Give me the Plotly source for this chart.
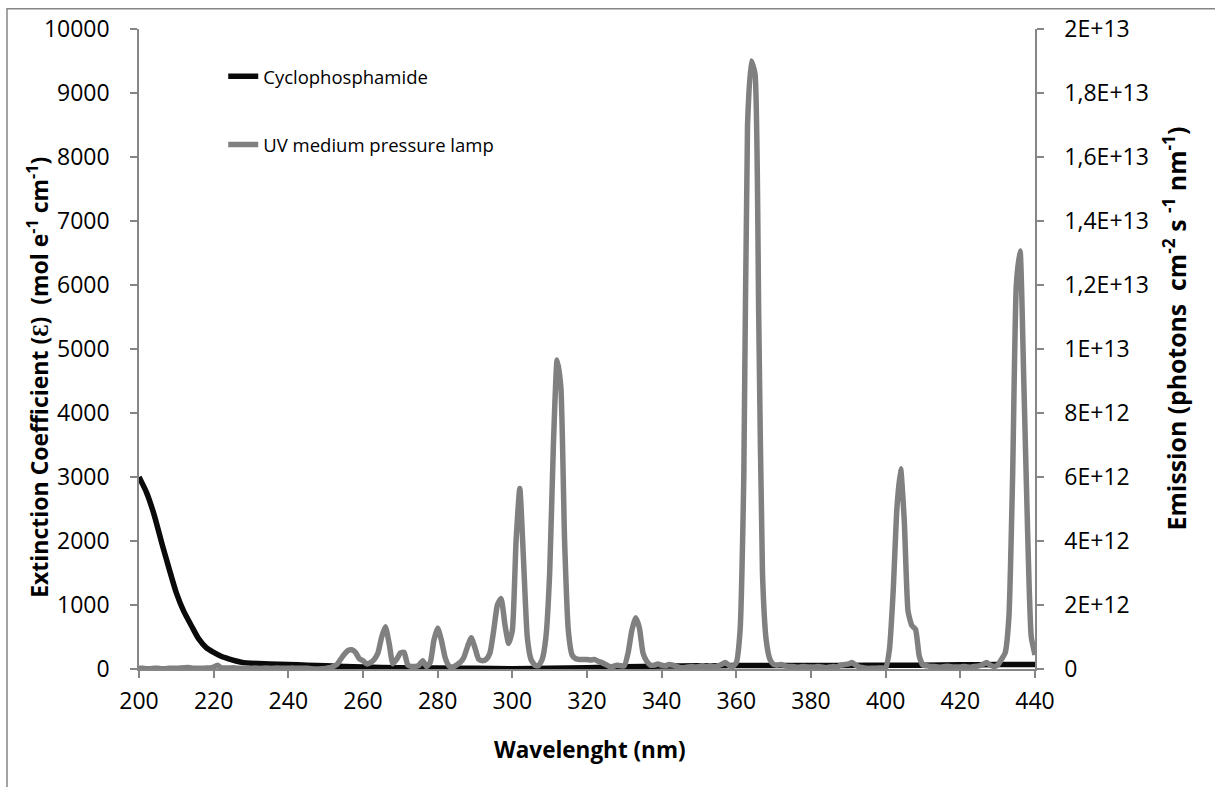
import numpy as np
import plotly.graph_objects as go

# ---------------- data ----------------
# Cyclophosphamide extinction coefficient (mol e-1 cm-1)
cp_wavelength = [200, 202, 204, 206, 208, 210, 212, 214, 216, 218, 220, 222, 224, 226, 228, 230,
                 235, 240, 245, 250, 260, 270, 280, 290, 300, 310, 320, 330, 340, 350, 360,
                 370, 380, 390, 400, 410, 420, 430, 440]
cp_extinction = [3000, 2760, 2420, 1990, 1580, 1190, 900, 680, 470, 335, 260, 200, 160, 125, 100, 90,
                 80, 70, 60, 50, 30, 20, 15, 10, 5, 10, 20, 35, 45, 50, 55,
                 55, 55, 55, 60, 60, 65, 70, 70]

# UV medium pressure lamp emission, in units of 1E+12 photons cm-2 s-1 nm-1, 200..440 nm step 1
lamp_wavelength = list(range(200, 441))
lamp_emission_e12 = [
    0.02, 0.02, 0.01, 0.01, 0.02, 0.02, 0.01, 0.01, 0.02, 0.02,   # 200-209
    0.02, 0.03, 0.04, 0.05, 0.03, 0.02, 0.02, 0.02, 0.03, 0.03,   # 210-219
    0.06, 0.12, 0.04, 0.03, 0.03, 0.04, 0.03, 0.02, 0.02, 0.02,   # 220-229
    0.02, 0.03, 0.02, 0.02, 0.03, 0.02, 0.02, 0.03, 0.02, 0.02,   # 230-239
    0.02, 0.03, 0.02, 0.02, 0.02, 0.02, 0.01, 0.0, 0.0, 0.01,     # 240-249
    0.02, 0.04, 0.08, 0.14, 0.3, 0.46, 0.58, 0.6, 0.52, 0.32,     # 250-259
    0.26, 0.16, 0.2, 0.3, 0.5, 1.0, 1.32, 0.8, 0.16, 0.3,         # 260-269
    0.5, 0.52, 0.12, 0.08, 0.08, 0.12, 0.26, 0.08, 0.2, 0.9,      # 270-279
    1.28, 0.9, 0.36, 0.1, 0.06, 0.12, 0.2, 0.36, 0.7, 0.98,       # 280-289
    0.66, 0.3, 0.26, 0.3, 0.5, 1.2, 2.0, 2.2, 1.4, 0.8,           # 290-299
    1.2, 4.0, 5.64, 3.4, 1.0, 0.3, 0.12, 0.1, 0.3, 1.0,           # 300-309
    3.0, 7.0, 9.66, 8.8, 4.0, 1.2, 0.44, 0.32, 0.3, 0.3,          # 310-319
    0.3, 0.28, 0.3, 0.24, 0.2, 0.14, 0.08, 0.08, 0.12, 0.1,       # 320-329
    0.1, 0.5, 1.2, 1.6, 1.3, 0.5, 0.24, 0.12, 0.12, 0.16,         # 330-339
    0.12, 0.1, 0.14, 0.12, 0.08, 0.04, 0.04, 0.06, 0.08, 0.06,    # 340-349
    0.08, 0.1, 0.08, 0.1, 0.08, 0.1, 0.14, 0.2, 0.12, 0.08,       # 350-359
    0.2, 1.2, 6.0, 17.0, 19.0, 18.6, 11.0, 3.0, 0.9, 0.3,         # 360-369
    0.14, 0.12, 0.14, 0.1, 0.08, 0.08, 0.06, 0.06, 0.08, 0.06,    # 370-379
    0.06, 0.06, 0.08, 0.06, 0.04, 0.06, 0.08, 0.06, 0.12, 0.14,   # 380-389
    0.16, 0.2, 0.12, 0.06, 0.04, 0.02, 0.02, 0.02, 0.03, 0.03,    # 390-399
    0.04, 0.6, 2.4, 5.0, 6.26, 4.6, 1.8, 1.36, 1.24, 0.4,         # 400-409
    0.12, 0.1, 0.08, 0.08, 0.06, 0.06, 0.08, 0.08, 0.06, 0.06,    # 410-419
    0.06, 0.08, 0.06, 0.06, 0.08, 0.1, 0.14, 0.2, 0.12, 0.08,     # 420-429
    0.12, 0.3, 0.5, 1.6, 6.0, 12.0, 13.06, 9.0, 4.4, 1.0, 0.44,   # 430-440
]

x_ticks = [200, 220, 240, 260, 280, 300, 320, 340, 360, 380, 400, 420, 440]
y2_tick_vals = [0, 2e12, 4e12, 6e12, 8e12, 1e13, 1.2e13, 1.4e13, 1.6e13, 1.8e13, 2e13]
y2_tick_text = ["0", "2E+12", "4E+12", "6E+12", "8E+12", "1E+13",
                "1,2E+13", "1,4E+13", "1,6E+13", "1,8E+13", "2E+13"]

lamp_emission = np.array(lamp_emission_e12) * 1e12

# ---------------- figure ----------------
AX = "#868686"
FONT = "Open Sans"

fig = go.Figure()
fig.add_trace(go.Scatter(
    x=cp_wavelength, y=cp_extinction, name="Cyclophosphamide", mode="lines",
    line=dict(color="#0a0a0a", width=5.5, shape="spline", smoothing=0.6),
    yaxis="y", legendgroup="a"))
fig.add_trace(go.Scatter(
    x=lamp_wavelength, y=lamp_emission, name="UV medium pressure lamp", mode="lines",
    line=dict(color="#808080", width=5.5, shape="spline", smoothing=0.5),
    yaxis="y2", legendgroup="b"))

tickfont = dict(family=FONT, size=23, color="#000000")

fig.update_layout(
    width=1215, height=787,
    margin=dict(l=139, r=180, t=23, b=118),
    paper_bgcolor="white", plot_bgcolor="white",
    font=dict(family=FONT, color="#000000"),
    xaxis=dict(range=[200, 440], tickvals=x_ticks, showgrid=False, zeroline=False,
               showline=True, linecolor=AX, linewidth=1.5,
               ticks="outside", ticklen=7, tickcolor=AX, tickwidth=1.5,
               tickfont=tickfont, ticklabelstandoff=4),
    yaxis=dict(range=[0, 10000], dtick=1000, tickformat="d", showgrid=False, zeroline=False,
               showline=True, linecolor=AX, linewidth=1.5,
               ticks="outside", ticklen=7, tickcolor=AX, tickwidth=1.5,
               tickfont=tickfont, ticklabelstandoff=16),
    yaxis2=dict(range=[0, 2e13], overlaying="y", side="right", anchor="x",
                tickvals=y2_tick_vals, ticktext=y2_tick_text,
                showgrid=False, zeroline=False,
                showline=True, linecolor=AX, linewidth=1.5,
                ticks="outside", ticklen=7, tickcolor=AX, tickwidth=1.5,
                tickfont=tickfont, ticklabelstandoff=16),
    showlegend=True,
    legend=dict(x=0.094, y=0.955, xanchor="left", yanchor="top",
                bgcolor="rgba(0,0,0,0)", font=dict(family=FONT, size=18.5, color="#000000"),
                tracegroupgap=41, traceorder="grouped"),
)

fig.add_annotation(text="<b>Wavelenght (nm)</b>", xref="paper", yref="paper",
                   x=0.503, y=-0.125, showarrow=False,
                   font=dict(family=FONT, size=22.5, color="#000000"),
                   xanchor="center", yanchor="middle")
fig.add_annotation(text="<b>Extinction Coefficient (Ɛ)&nbsp; (mol e<sup>-1</sup> cm<sup>-1</sup>)</b>",
                   xref="paper", yref="paper", x=-0.1127, y=0.455, textangle=-90,
                   showarrow=False, font=dict(family=FONT, size=23, color="#000000"),
                   xanchor="center", yanchor="middle")
fig.add_annotation(text="<b>Emission (photons&nbsp; cm<sup>-2</sup> s <sup>-1</sup> nm<sup>-1</sup>)</b>",
                   xref="paper", yref="paper", x=1.155, y=0.532, textangle=-90,
                   showarrow=False, font=dict(family=FONT, size=24.8, color="#000000"),
                   xanchor="center", yanchor="middle")

# outer chart frame (cropped at right and bottom in the reference)
fig.add_shape(type="rect", xref="paper", yref="paper",
              x0=-0.1473, x1=1.35, y0=-0.4, y1=1.0316,
              line=dict(color=AX, width=1.5), fillcolor="rgba(0,0,0,0)", layer="below")

fig.write_html("out.html")
